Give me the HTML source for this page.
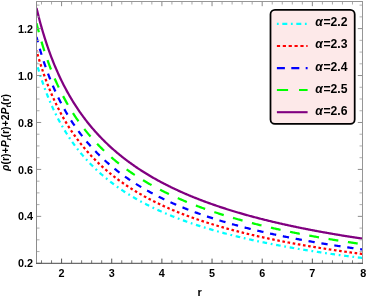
<!DOCTYPE html>
<html><head><meta charset="utf-8"><title>plot</title>
<style>html,body{margin:0;padding:0;background:#fff;}body{width:366px;height:297px;position:relative;overflow:hidden;font-family:"Liberation Sans",sans-serif;}</style>
</head><body>
<svg width="366" height="297" viewBox="0 0 366 297" style="position:absolute;left:0;top:0;will-change:transform;opacity:0.999">
<defs><clipPath id="c"><rect x="36.5" y="1.5" width="326.00" height="261.80"/></clipPath></defs>
<rect x="0" y="0" width="366" height="297" fill="#fff"/>
<g clip-path="url(#c)" fill="none" stroke-width="2.25">
<path d="M36.50,62.91 L37.32,65.77 L38.14,68.55 L38.95,71.25 L39.77,73.88 L40.59,76.44 L41.41,78.93 L42.23,81.35 L43.04,83.72 L43.86,86.03 L44.68,88.28 L45.50,90.47 L46.31,92.62 L47.13,94.71 L47.95,96.76 L48.77,98.76 L49.59,100.71 L50.40,102.62 L51.22,104.49 L52.04,106.33 L52.86,108.12 L53.68,109.87 L54.49,111.59 L55.31,113.27 L56.13,114.92 L56.95,116.54 L57.77,118.13 L58.58,119.69 L59.40,121.21 L60.22,122.71 L61.04,124.18 L61.86,125.62 L62.67,127.04 L63.49,128.43 L64.31,129.80 L65.13,131.15 L65.94,132.47 L66.76,133.77 L67.58,135.04 L68.40,136.30 L69.22,137.54 L70.03,138.75 L70.85,139.95 L71.67,141.12 L72.49,142.28 L73.31,143.42 L74.12,144.55 L74.94,145.65 L75.76,146.74 L76.58,147.81 L77.40,148.87 L78.21,149.91 L79.03,150.94 L79.85,151.95 L80.67,152.95 L81.49,153.93 L82.30,154.90 L83.12,155.86 L83.94,156.80 L84.76,157.73 L85.57,158.65 L86.39,159.56 L87.21,160.45 L88.03,161.33 L88.85,162.20 L89.66,163.06 L90.48,163.91 L91.30,164.75 L92.12,165.58 L92.94,166.39 L93.75,167.20 L94.57,168.00 L95.39,168.78 L96.21,169.56 L97.03,170.33 L97.84,171.09 L98.66,171.84 L99.48,172.58 L100.30,173.32 L101.11,174.04 L101.93,174.76 L102.75,175.46 L103.57,176.16 L104.39,176.86 L105.20,177.54 L106.02,178.22 L106.84,178.89 L107.66,179.55 L108.48,180.20 L109.29,180.85 L110.11,181.49 L110.93,182.13 L111.75,182.75 L112.57,183.38 L113.38,183.99 L114.20,184.60 L115.02,185.20 L115.84,185.80 L116.66,186.39 L117.47,186.97 L118.29,187.55 L119.11,188.12 L119.93,188.69 L120.74,189.25 L121.56,189.80 L122.38,190.35 L123.20,190.90 L124.02,191.44 L124.83,191.97 L125.65,192.50 L126.47,193.02 L127.29,193.54 L128.11,194.06 L128.92,194.57 L129.74,195.07 L130.56,195.57 L131.38,196.07 L132.20,196.56 L133.01,197.05 L133.83,197.53 L134.65,198.01 L135.47,198.48 L136.29,198.95 L137.10,199.42 L137.92,199.88 L138.74,200.33 L139.56,200.79 L140.37,201.24 L141.19,201.68 L142.01,202.12 L142.83,202.56 L143.65,203.00 L144.46,203.43 L145.28,203.85 L146.10,204.28 L146.92,204.70 L147.74,205.11 L148.55,205.53 L149.37,205.94 L150.19,206.34 L151.01,206.75 L151.83,207.15 L152.64,207.54 L153.46,207.94 L154.28,208.33 L155.10,208.71 L155.91,209.10 L156.73,209.48 L157.55,209.86 L158.37,210.23 L159.19,210.60 L160.00,210.97 L160.82,211.34 L161.64,211.70 L162.46,212.07 L163.28,212.42 L164.09,212.78 L164.91,213.13 L165.73,213.48 L166.55,213.83 L167.37,214.17 L168.18,214.52 L169.00,214.86 L169.82,215.19 L170.64,215.53 L171.46,215.86 L172.27,216.19 L173.09,216.52 L173.91,216.85 L174.73,217.17 L175.54,217.49 L176.36,217.81 L177.18,218.12 L178.00,218.44 L178.82,218.75 L179.63,219.06 L180.45,219.37 L181.27,219.67 L182.09,219.98 L182.91,220.28 L183.72,220.58 L184.54,220.87 L185.36,221.17 L186.18,221.46 L187.00,221.75 L187.81,222.04 L188.63,222.33 L189.45,222.61 L190.27,222.90 L191.09,223.18 L191.90,223.46 L192.72,223.73 L193.54,224.01 L194.36,224.28 L195.17,224.56 L195.99,224.83 L196.81,225.10 L197.63,225.36 L198.45,225.63 L199.26,225.89 L200.08,226.15 L200.90,226.41 L201.72,226.67 L202.54,226.93 L203.35,227.19 L204.17,227.44 L204.99,227.69 L205.81,227.94 L206.63,228.19 L207.44,228.44 L208.26,228.68 L209.08,228.93 L209.90,229.17 L210.71,229.41 L211.53,229.65 L212.35,229.89 L213.17,230.13 L213.99,230.36 L214.80,230.60 L215.62,230.83 L216.44,231.06 L217.26,231.29 L218.08,231.52 L218.89,231.75 L219.71,231.98 L220.53,232.20 L221.35,232.42 L222.17,232.65 L222.98,232.87 L223.80,233.09 L224.62,233.30 L225.44,233.52 L226.26,233.74 L227.07,233.95 L227.89,234.16 L228.71,234.38 L229.53,234.59 L230.34,234.80 L231.16,235.00 L231.98,235.21 L232.80,235.42 L233.62,235.62 L234.43,235.83 L235.25,236.03 L236.07,236.23 L236.89,236.43 L237.71,236.63 L238.52,236.83 L239.34,237.03 L240.16,237.22 L240.98,237.42 L241.80,237.61 L242.61,237.80 L243.43,238.00 L244.25,238.19 L245.07,238.38 L245.89,238.56 L246.70,238.75 L247.52,238.94 L248.34,239.12 L249.16,239.31 L249.97,239.49 L250.79,239.68 L251.61,239.86 L252.43,240.04 L253.25,240.22 L254.06,240.40 L254.88,240.58 L255.70,240.75 L256.52,240.93 L257.34,241.10 L258.15,241.28 L258.97,241.45 L259.79,241.62 L260.61,241.80 L261.43,241.97 L262.24,242.14 L263.06,242.31 L263.88,242.47 L264.70,242.64 L265.51,242.81 L266.33,242.97 L267.15,243.14 L267.97,243.30 L268.79,243.47 L269.60,243.63 L270.42,243.79 L271.24,243.95 L272.06,244.11 L272.88,244.27 L273.69,244.43 L274.51,244.59 L275.33,244.74 L276.15,244.90 L276.97,245.06 L277.78,245.21 L278.60,245.36 L279.42,245.52 L280.24,245.67 L281.06,245.82 L281.87,245.97 L282.69,246.12 L283.51,246.27 L284.33,246.42 L285.14,246.57 L285.96,246.72 L286.78,246.86 L287.60,247.01 L288.42,247.16 L289.23,247.30 L290.05,247.44 L290.87,247.59 L291.69,247.73 L292.51,247.87 L293.32,248.01 L294.14,248.16 L294.96,248.30 L295.78,248.43 L296.60,248.57 L297.41,248.71 L298.23,248.85 L299.05,248.99 L299.87,249.12 L300.69,249.26 L301.50,249.39 L302.32,249.53 L303.14,249.66 L303.96,249.79 L304.77,249.93 L305.59,250.06 L306.41,250.19 L307.23,250.32 L308.05,250.45 L308.86,250.58 L309.68,250.71 L310.50,250.84 L311.32,250.97 L312.14,251.10 L312.95,251.22 L313.77,251.35 L314.59,251.47 L315.41,251.60 L316.23,251.72 L317.04,251.85 L317.86,251.97 L318.68,252.10 L319.50,252.22 L320.31,252.34 L321.13,252.46 L321.95,252.58 L322.77,252.70 L323.59,252.82 L324.40,252.94 L325.22,253.06 L326.04,253.18 L326.86,253.30 L327.68,253.42 L328.49,253.53 L329.31,253.65 L330.13,253.77 L330.95,253.88 L331.77,254.00 L332.58,254.11 L333.40,254.23 L334.22,254.34 L335.04,254.45 L335.86,254.56 L336.67,254.68 L337.49,254.79 L338.31,254.90 L339.13,255.01 L339.94,255.12 L340.76,255.23 L341.58,255.34 L342.40,255.45 L343.22,255.56 L344.03,255.67 L344.85,255.77 L345.67,255.88 L346.49,255.99 L347.31,256.10 L348.12,256.20 L348.94,256.31 L349.76,256.41 L350.58,256.52 L351.40,256.62 L352.21,256.73 L353.03,256.83 L353.85,256.93 L354.67,257.04 L355.49,257.14 L356.30,257.24 L357.12,257.34 L357.94,257.44 L358.76,257.54 L359.57,257.64 L360.39,257.74 L361.21,257.84 L362.03,257.94 L362.85,258.04" stroke="#00ffff" stroke-dasharray="1.8 3.69 4.6 3.69" stroke-dashoffset="1.0"/>
<path d="M36.50,50.47 L37.32,53.41 L38.14,56.27 L38.95,59.05 L39.77,61.75 L40.59,64.39 L41.41,66.96 L42.23,69.46 L43.04,71.90 L43.86,74.28 L44.68,76.60 L45.50,78.86 L46.31,81.08 L47.13,83.24 L47.95,85.35 L48.77,87.41 L49.59,89.43 L50.40,91.41 L51.22,93.34 L52.04,95.23 L52.86,97.09 L53.68,98.90 L54.49,100.68 L55.31,102.42 L56.13,104.13 L56.95,105.80 L57.77,107.45 L58.58,109.06 L59.40,110.64 L60.22,112.19 L61.04,113.72 L61.86,115.21 L62.67,116.68 L63.49,118.13 L64.31,119.55 L65.13,120.94 L65.94,122.31 L66.76,123.66 L67.58,124.99 L68.40,126.29 L69.22,127.58 L70.03,128.84 L70.85,130.08 L71.67,131.31 L72.49,132.51 L73.31,133.70 L74.12,134.86 L74.94,136.01 L75.76,137.15 L76.58,138.26 L77.40,139.36 L78.21,140.45 L79.03,141.52 L79.85,142.57 L80.67,143.61 L81.49,144.63 L82.30,145.64 L83.12,146.64 L83.94,147.62 L84.76,148.59 L85.57,149.55 L86.39,150.50 L87.21,151.43 L88.03,152.35 L88.85,153.26 L89.66,154.15 L90.48,155.04 L91.30,155.91 L92.12,156.78 L92.94,157.63 L93.75,158.47 L94.57,159.30 L95.39,160.13 L96.21,160.94 L97.03,161.74 L97.84,162.53 L98.66,163.32 L99.48,164.09 L100.30,164.86 L101.11,165.62 L101.93,166.37 L102.75,167.11 L103.57,167.84 L104.39,168.56 L105.20,169.28 L106.02,169.99 L106.84,170.69 L107.66,171.38 L108.48,172.07 L109.29,172.74 L110.11,173.41 L110.93,174.08 L111.75,174.74 L112.57,175.39 L113.38,176.03 L114.20,176.67 L115.02,177.30 L115.84,177.92 L116.66,178.54 L117.47,179.15 L118.29,179.76 L119.11,180.36 L119.93,180.95 L120.74,181.54 L121.56,182.12 L122.38,182.70 L123.20,183.27 L124.02,183.83 L124.83,184.39 L125.65,184.95 L126.47,185.50 L127.29,186.04 L128.11,186.58 L128.92,187.12 L129.74,187.65 L130.56,188.17 L131.38,188.69 L132.20,189.21 L133.01,189.72 L133.83,190.22 L134.65,190.73 L135.47,191.22 L136.29,191.72 L137.10,192.21 L137.92,192.69 L138.74,193.17 L139.56,193.65 L140.37,194.12 L141.19,194.59 L142.01,195.05 L142.83,195.51 L143.65,195.97 L144.46,196.42 L145.28,196.87 L146.10,197.31 L146.92,197.75 L147.74,198.19 L148.55,198.63 L149.37,199.06 L150.19,199.48 L151.01,199.91 L151.83,200.33 L152.64,200.74 L153.46,201.16 L154.28,201.57 L155.10,201.98 L155.91,202.38 L156.73,202.78 L157.55,203.18 L158.37,203.57 L159.19,203.96 L160.00,204.35 L160.82,204.74 L161.64,205.12 L162.46,205.50 L163.28,205.88 L164.09,206.25 L164.91,206.62 L165.73,206.99 L166.55,207.36 L167.37,207.72 L168.18,208.08 L169.00,208.44 L169.82,208.80 L170.64,209.15 L171.46,209.50 L172.27,209.85 L173.09,210.19 L173.91,210.53 L174.73,210.87 L175.54,211.21 L176.36,211.55 L177.18,211.88 L178.00,212.21 L178.82,212.54 L179.63,212.86 L180.45,213.19 L181.27,213.51 L182.09,213.83 L182.91,214.15 L183.72,214.46 L184.54,214.77 L185.36,215.09 L186.18,215.39 L187.00,215.70 L187.81,216.01 L188.63,216.31 L189.45,216.61 L190.27,216.91 L191.09,217.20 L191.90,217.50 L192.72,217.79 L193.54,218.08 L194.36,218.37 L195.17,218.66 L195.99,218.94 L196.81,219.23 L197.63,219.51 L198.45,219.79 L199.26,220.07 L200.08,220.34 L200.90,220.62 L201.72,220.89 L202.54,221.16 L203.35,221.43 L204.17,221.70 L204.99,221.96 L205.81,222.23 L206.63,222.49 L207.44,222.75 L208.26,223.01 L209.08,223.27 L209.90,223.52 L210.71,223.78 L211.53,224.03 L212.35,224.28 L213.17,224.53 L213.99,224.78 L214.80,225.03 L215.62,225.27 L216.44,225.52 L217.26,225.76 L218.08,226.00 L218.89,226.24 L219.71,226.48 L220.53,226.72 L221.35,226.95 L222.17,227.19 L222.98,227.42 L223.80,227.65 L224.62,227.88 L225.44,228.11 L226.26,228.34 L227.07,228.57 L227.89,228.79 L228.71,229.02 L229.53,229.24 L230.34,229.46 L231.16,229.68 L231.98,229.90 L232.80,230.12 L233.62,230.33 L234.43,230.55 L235.25,230.76 L236.07,230.97 L236.89,231.19 L237.71,231.40 L238.52,231.61 L239.34,231.81 L240.16,232.02 L240.98,232.23 L241.80,232.43 L242.61,232.63 L243.43,232.84 L244.25,233.04 L245.07,233.24 L245.89,233.44 L246.70,233.64 L247.52,233.83 L248.34,234.03 L249.16,234.23 L249.97,234.42 L250.79,234.61 L251.61,234.80 L252.43,235.00 L253.25,235.19 L254.06,235.37 L254.88,235.56 L255.70,235.75 L256.52,235.94 L257.34,236.12 L258.15,236.31 L258.97,236.49 L259.79,236.67 L260.61,236.85 L261.43,237.03 L262.24,237.21 L263.06,237.39 L263.88,237.57 L264.70,237.75 L265.51,237.92 L266.33,238.10 L267.15,238.27 L267.97,238.45 L268.79,238.62 L269.60,238.79 L270.42,238.96 L271.24,239.13 L272.06,239.30 L272.88,239.47 L273.69,239.64 L274.51,239.80 L275.33,239.97 L276.15,240.13 L276.97,240.30 L277.78,240.46 L278.60,240.62 L279.42,240.79 L280.24,240.95 L281.06,241.11 L281.87,241.27 L282.69,241.43 L283.51,241.58 L284.33,241.74 L285.14,241.90 L285.96,242.05 L286.78,242.21 L287.60,242.36 L288.42,242.52 L289.23,242.67 L290.05,242.82 L290.87,242.97 L291.69,243.13 L292.51,243.28 L293.32,243.43 L294.14,243.57 L294.96,243.72 L295.78,243.87 L296.60,244.02 L297.41,244.16 L298.23,244.31 L299.05,244.45 L299.87,244.60 L300.69,244.74 L301.50,244.88 L302.32,245.03 L303.14,245.17 L303.96,245.31 L304.77,245.45 L305.59,245.59 L306.41,245.73 L307.23,245.87 L308.05,246.00 L308.86,246.14 L309.68,246.28 L310.50,246.41 L311.32,246.55 L312.14,246.68 L312.95,246.82 L313.77,246.95 L314.59,247.08 L315.41,247.22 L316.23,247.35 L317.04,247.48 L317.86,247.61 L318.68,247.74 L319.50,247.87 L320.31,248.00 L321.13,248.13 L321.95,248.26 L322.77,248.39 L323.59,248.51 L324.40,248.64 L325.22,248.76 L326.04,248.89 L326.86,249.01 L327.68,249.14 L328.49,249.26 L329.31,249.39 L330.13,249.51 L330.95,249.63 L331.77,249.75 L332.58,249.87 L333.40,250.00 L334.22,250.12 L335.04,250.24 L335.86,250.35 L336.67,250.47 L337.49,250.59 L338.31,250.71 L339.13,250.83 L339.94,250.94 L340.76,251.06 L341.58,251.18 L342.40,251.29 L343.22,251.41 L344.03,251.52 L344.85,251.64 L345.67,251.75 L346.49,251.86 L347.31,251.97 L348.12,252.09 L348.94,252.20 L349.76,252.31 L350.58,252.42 L351.40,252.53 L352.21,252.64 L353.03,252.75 L353.85,252.86 L354.67,252.97 L355.49,253.08 L356.30,253.19 L357.12,253.29 L357.94,253.40 L358.76,253.51 L359.57,253.61 L360.39,253.72 L361.21,253.82 L362.03,253.93 L362.85,254.03" stroke="#ff0000" stroke-dasharray="2.6 2.624" stroke-dashoffset="1.5"/>
<path d="M36.50,36.92 L37.32,40.01 L38.14,43.01 L38.95,45.93 L39.77,48.77 L40.59,51.53 L41.41,54.22 L42.23,56.84 L43.04,59.39 L43.86,61.88 L44.68,64.31 L45.50,66.68 L46.31,68.99 L47.13,71.25 L47.95,73.45 L48.77,75.61 L49.59,77.72 L50.40,79.78 L51.22,81.79 L52.04,83.77 L52.86,85.70 L53.68,87.59 L54.49,89.44 L55.31,91.26 L56.13,93.04 L56.95,94.78 L57.77,96.49 L58.58,98.17 L59.40,99.81 L60.22,101.43 L61.04,103.01 L61.86,104.57 L62.67,106.10 L63.49,107.60 L64.31,109.08 L65.13,110.53 L65.94,111.95 L66.76,113.36 L67.58,114.73 L68.40,116.09 L69.22,117.42 L70.03,118.74 L70.85,120.03 L71.67,121.30 L72.49,122.55 L73.31,123.78 L74.12,124.99 L74.94,126.19 L75.76,127.37 L76.58,128.53 L77.40,129.67 L78.21,130.79 L79.03,131.90 L79.85,133.00 L80.67,134.08 L81.49,135.14 L82.30,136.19 L83.12,137.23 L83.94,138.25 L84.76,139.26 L85.57,140.25 L86.39,141.23 L87.21,142.20 L88.03,143.16 L88.85,144.10 L89.66,145.03 L90.48,145.95 L91.30,146.86 L92.12,147.76 L92.94,148.64 L93.75,149.52 L94.57,150.38 L95.39,151.24 L96.21,152.08 L97.03,152.92 L97.84,153.74 L98.66,154.55 L99.48,155.36 L100.30,156.16 L101.11,156.94 L101.93,157.72 L102.75,158.49 L103.57,159.25 L104.39,160.01 L105.20,160.75 L106.02,161.49 L106.84,162.22 L107.66,162.94 L108.48,163.65 L109.29,164.35 L110.11,165.05 L110.93,165.74 L111.75,166.43 L112.57,167.10 L113.38,167.77 L114.20,168.44 L115.02,169.09 L115.84,169.74 L116.66,170.39 L117.47,171.02 L118.29,171.65 L119.11,172.28 L119.93,172.89 L120.74,173.51 L121.56,174.11 L122.38,174.71 L123.20,175.31 L124.02,175.90 L124.83,176.48 L125.65,177.06 L126.47,177.63 L127.29,178.20 L128.11,178.76 L128.92,179.32 L129.74,179.87 L130.56,180.42 L131.38,180.96 L132.20,181.50 L133.01,182.03 L133.83,182.56 L134.65,183.08 L135.47,183.60 L136.29,184.11 L137.10,184.62 L137.92,185.13 L138.74,185.63 L139.56,186.13 L140.37,186.62 L141.19,187.11 L142.01,187.59 L142.83,188.07 L143.65,188.55 L144.46,189.02 L145.28,189.49 L146.10,189.95 L146.92,190.41 L147.74,190.87 L148.55,191.32 L149.37,191.77 L150.19,192.22 L151.01,192.66 L151.83,193.10 L152.64,193.54 L153.46,193.97 L154.28,194.40 L155.10,194.82 L155.91,195.24 L156.73,195.66 L157.55,196.08 L158.37,196.49 L159.19,196.90 L160.00,197.31 L160.82,197.71 L161.64,198.11 L162.46,198.51 L163.28,198.90 L164.09,199.29 L164.91,199.68 L165.73,200.06 L166.55,200.45 L167.37,200.83 L168.18,201.20 L169.00,201.58 L169.82,201.95 L170.64,202.32 L171.46,202.68 L172.27,203.05 L173.09,203.41 L173.91,203.77 L174.73,204.12 L175.54,204.48 L176.36,204.83 L177.18,205.18 L178.00,205.52 L178.82,205.87 L179.63,206.21 L180.45,206.55 L181.27,206.88 L182.09,207.22 L182.91,207.55 L183.72,207.88 L184.54,208.21 L185.36,208.53 L186.18,208.86 L187.00,209.18 L187.81,209.50 L188.63,209.81 L189.45,210.13 L190.27,210.44 L191.09,210.75 L191.90,211.06 L192.72,211.37 L193.54,211.67 L194.36,211.97 L195.17,212.28 L195.99,212.57 L196.81,212.87 L197.63,213.17 L198.45,213.46 L199.26,213.75 L200.08,214.04 L200.90,214.33 L201.72,214.61 L202.54,214.90 L203.35,215.18 L204.17,215.46 L204.99,215.74 L205.81,216.02 L206.63,216.29 L207.44,216.57 L208.26,216.84 L209.08,217.11 L209.90,217.38 L210.71,217.65 L211.53,217.91 L212.35,218.18 L213.17,218.44 L213.99,218.70 L214.80,218.96 L215.62,219.22 L216.44,219.47 L217.26,219.73 L218.08,219.98 L218.89,220.23 L219.71,220.48 L220.53,220.73 L221.35,220.98 L222.17,221.22 L222.98,221.47 L223.80,221.71 L224.62,221.95 L225.44,222.19 L226.26,222.43 L227.07,222.67 L227.89,222.91 L228.71,223.14 L229.53,223.38 L230.34,223.61 L231.16,223.84 L231.98,224.07 L232.80,224.30 L233.62,224.53 L234.43,224.75 L235.25,224.98 L236.07,225.20 L236.89,225.42 L237.71,225.64 L238.52,225.86 L239.34,226.08 L240.16,226.30 L240.98,226.52 L241.80,226.73 L242.61,226.95 L243.43,227.16 L244.25,227.37 L245.07,227.58 L245.89,227.79 L246.70,228.00 L247.52,228.21 L248.34,228.41 L249.16,228.62 L249.97,228.82 L250.79,229.03 L251.61,229.23 L252.43,229.43 L253.25,229.63 L254.06,229.83 L254.88,230.03 L255.70,230.22 L256.52,230.42 L257.34,230.61 L258.15,230.81 L258.97,231.00 L259.79,231.19 L260.61,231.38 L261.43,231.57 L262.24,231.76 L263.06,231.95 L263.88,232.14 L264.70,232.32 L265.51,232.51 L266.33,232.69 L267.15,232.88 L267.97,233.06 L268.79,233.24 L269.60,233.42 L270.42,233.60 L271.24,233.78 L272.06,233.96 L272.88,234.14 L273.69,234.31 L274.51,234.49 L275.33,234.66 L276.15,234.84 L276.97,235.01 L277.78,235.18 L278.60,235.35 L279.42,235.52 L280.24,235.69 L281.06,235.86 L281.87,236.03 L282.69,236.20 L283.51,236.36 L284.33,236.53 L285.14,236.69 L285.96,236.86 L286.78,237.02 L287.60,237.18 L288.42,237.35 L289.23,237.51 L290.05,237.67 L290.87,237.83 L291.69,237.99 L292.51,238.15 L293.32,238.30 L294.14,238.46 L294.96,238.62 L295.78,238.77 L296.60,238.93 L297.41,239.08 L298.23,239.23 L299.05,239.39 L299.87,239.54 L300.69,239.69 L301.50,239.84 L302.32,239.99 L303.14,240.14 L303.96,240.29 L304.77,240.44 L305.59,240.58 L306.41,240.73 L307.23,240.88 L308.05,241.02 L308.86,241.17 L309.68,241.31 L310.50,241.45 L311.32,241.60 L312.14,241.74 L312.95,241.88 L313.77,242.02 L314.59,242.16 L315.41,242.30 L316.23,242.44 L317.04,242.58 L317.86,242.72 L318.68,242.86 L319.50,242.99 L320.31,243.13 L321.13,243.26 L321.95,243.40 L322.77,243.53 L323.59,243.67 L324.40,243.80 L325.22,243.93 L326.04,244.07 L326.86,244.20 L327.68,244.33 L328.49,244.46 L329.31,244.59 L330.13,244.72 L330.95,244.85 L331.77,244.98 L332.58,245.11 L333.40,245.23 L334.22,245.36 L335.04,245.49 L335.86,245.61 L336.67,245.74 L337.49,245.86 L338.31,245.99 L339.13,246.11 L339.94,246.23 L340.76,246.36 L341.58,246.48 L342.40,246.60 L343.22,246.72 L344.03,246.84 L344.85,246.96 L345.67,247.08 L346.49,247.20 L347.31,247.32 L348.12,247.44 L348.94,247.56 L349.76,247.68 L350.58,247.79 L351.40,247.91 L352.21,248.03 L353.03,248.14 L353.85,248.26 L354.67,248.37 L355.49,248.49 L356.30,248.60 L357.12,248.72 L357.94,248.83 L358.76,248.94 L359.57,249.05 L360.39,249.17 L361.21,249.28 L362.03,249.39 L362.85,249.50" stroke="#0000ff" stroke-dasharray="6.3 6.77" stroke-dashoffset="0.8"/>
<path d="M36.50,23.17 L37.32,26.42 L38.14,29.57 L38.95,32.63 L39.77,35.61 L40.59,38.51 L41.41,41.33 L42.23,44.07 L43.04,46.74 L43.86,49.34 L44.68,51.88 L45.50,54.35 L46.31,56.76 L47.13,59.12 L47.95,61.42 L48.77,63.66 L49.59,65.86 L50.40,68.00 L51.22,70.10 L52.04,72.15 L52.86,74.16 L53.68,76.12 L54.49,78.05 L55.31,79.93 L56.13,81.78 L56.95,83.59 L57.77,85.36 L58.58,87.10 L59.40,88.81 L60.22,90.48 L61.04,92.12 L61.86,93.74 L62.67,95.32 L63.49,96.87 L64.31,98.40 L65.13,99.90 L65.94,101.38 L66.76,102.83 L67.58,104.25 L68.40,105.66 L69.22,107.04 L70.03,108.39 L70.85,109.73 L71.67,111.04 L72.49,112.33 L73.31,113.61 L74.12,114.86 L74.94,116.10 L75.76,117.31 L76.58,118.51 L77.40,119.69 L78.21,120.85 L79.03,122.00 L79.85,123.13 L80.67,124.25 L81.49,125.35 L82.30,126.43 L83.12,127.50 L83.94,128.55 L84.76,129.59 L85.57,130.62 L86.39,131.63 L87.21,132.63 L88.03,133.62 L88.85,134.60 L89.66,135.56 L90.48,136.51 L91.30,137.45 L92.12,138.37 L92.94,139.29 L93.75,140.19 L94.57,141.09 L95.39,141.97 L96.21,142.84 L97.03,143.70 L97.84,144.55 L98.66,145.40 L99.48,146.23 L100.30,147.05 L101.11,147.86 L101.93,148.67 L102.75,149.46 L103.57,150.25 L104.39,151.03 L105.20,151.80 L106.02,152.56 L106.84,153.31 L107.66,154.06 L108.48,154.79 L109.29,155.52 L110.11,156.25 L110.93,156.96 L111.75,157.67 L112.57,158.37 L113.38,159.06 L114.20,159.75 L115.02,160.42 L115.84,161.10 L116.66,161.76 L117.47,162.42 L118.29,163.07 L119.11,163.72 L119.93,164.36 L120.74,164.99 L121.56,165.62 L122.38,166.24 L123.20,166.86 L124.02,167.47 L124.83,168.07 L125.65,168.67 L126.47,169.26 L127.29,169.85 L128.11,170.43 L128.92,171.01 L129.74,171.58 L130.56,172.15 L131.38,172.71 L132.20,173.27 L133.01,173.82 L133.83,174.37 L134.65,174.91 L135.47,175.45 L136.29,175.98 L137.10,176.51 L137.92,177.03 L138.74,177.55 L139.56,178.07 L140.37,178.58 L141.19,179.08 L142.01,179.59 L142.83,180.08 L143.65,180.58 L144.46,181.07 L145.28,181.55 L146.10,182.04 L146.92,182.51 L147.74,182.99 L148.55,183.46 L149.37,183.93 L150.19,184.39 L151.01,184.85 L151.83,185.30 L152.64,185.76 L153.46,186.21 L154.28,186.65 L155.10,187.09 L155.91,187.53 L156.73,187.97 L157.55,188.40 L158.37,188.83 L159.19,189.25 L160.00,189.67 L160.82,190.09 L161.64,190.51 L162.46,190.92 L163.28,191.33 L164.09,191.74 L164.91,192.14 L165.73,192.54 L166.55,192.94 L167.37,193.34 L168.18,193.73 L169.00,194.12 L169.82,194.50 L170.64,194.89 L171.46,195.27 L172.27,195.65 L173.09,196.02 L173.91,196.40 L174.73,196.77 L175.54,197.13 L176.36,197.50 L177.18,197.86 L178.00,198.22 L178.82,198.58 L179.63,198.94 L180.45,199.29 L181.27,199.64 L182.09,199.99 L182.91,200.33 L183.72,200.68 L184.54,201.02 L185.36,201.36 L186.18,201.70 L187.00,202.03 L187.81,202.36 L188.63,202.69 L189.45,203.02 L190.27,203.35 L191.09,203.67 L191.90,203.99 L192.72,204.31 L193.54,204.63 L194.36,204.95 L195.17,205.26 L195.99,205.57 L196.81,205.88 L197.63,206.19 L198.45,206.49 L199.26,206.80 L200.08,207.10 L200.90,207.40 L201.72,207.70 L202.54,208.00 L203.35,208.29 L204.17,208.58 L204.99,208.87 L205.81,209.16 L206.63,209.45 L207.44,209.74 L208.26,210.02 L209.08,210.30 L209.90,210.58 L210.71,210.86 L211.53,211.14 L212.35,211.42 L213.17,211.69 L213.99,211.96 L214.80,212.23 L215.62,212.50 L216.44,212.77 L217.26,213.04 L218.08,213.30 L218.89,213.57 L219.71,213.83 L220.53,214.09 L221.35,214.35 L222.17,214.60 L222.98,214.86 L223.80,215.11 L224.62,215.37 L225.44,215.62 L226.26,215.87 L227.07,216.12 L227.89,216.36 L228.71,216.61 L229.53,216.85 L230.34,217.10 L231.16,217.34 L231.98,217.58 L232.80,217.82 L233.62,218.06 L234.43,218.29 L235.25,218.53 L236.07,218.76 L236.89,218.99 L237.71,219.23 L238.52,219.46 L239.34,219.69 L240.16,219.91 L240.98,220.14 L241.80,220.36 L242.61,220.59 L243.43,220.81 L244.25,221.03 L245.07,221.25 L245.89,221.47 L246.70,221.69 L247.52,221.91 L248.34,222.13 L249.16,222.34 L249.97,222.55 L250.79,222.77 L251.61,222.98 L252.43,223.19 L253.25,223.40 L254.06,223.61 L254.88,223.81 L255.70,224.02 L256.52,224.23 L257.34,224.43 L258.15,224.63 L258.97,224.83 L259.79,225.04 L260.61,225.24 L261.43,225.44 L262.24,225.63 L263.06,225.83 L263.88,226.03 L264.70,226.22 L265.51,226.42 L266.33,226.61 L267.15,226.80 L267.97,226.99 L268.79,227.18 L269.60,227.37 L270.42,227.56 L271.24,227.75 L272.06,227.94 L272.88,228.12 L273.69,228.31 L274.51,228.49 L275.33,228.68 L276.15,228.86 L276.97,229.04 L277.78,229.22 L278.60,229.40 L279.42,229.58 L280.24,229.76 L281.06,229.93 L281.87,230.11 L282.69,230.29 L283.51,230.46 L284.33,230.64 L285.14,230.81 L285.96,230.98 L286.78,231.15 L287.60,231.32 L288.42,231.49 L289.23,231.66 L290.05,231.83 L290.87,232.00 L291.69,232.17 L292.51,232.33 L293.32,232.50 L294.14,232.66 L294.96,232.83 L295.78,232.99 L296.60,233.15 L297.41,233.31 L298.23,233.47 L299.05,233.64 L299.87,233.79 L300.69,233.95 L301.50,234.11 L302.32,234.27 L303.14,234.43 L303.96,234.58 L304.77,234.74 L305.59,234.89 L306.41,235.05 L307.23,235.20 L308.05,235.35 L308.86,235.51 L309.68,235.66 L310.50,235.81 L311.32,235.96 L312.14,236.11 L312.95,236.26 L313.77,236.40 L314.59,236.55 L315.41,236.70 L316.23,236.85 L317.04,236.99 L317.86,237.14 L318.68,237.28 L319.50,237.42 L320.31,237.57 L321.13,237.71 L321.95,237.85 L322.77,237.99 L323.59,238.13 L324.40,238.28 L325.22,238.41 L326.04,238.55 L326.86,238.69 L327.68,238.83 L328.49,238.97 L329.31,239.10 L330.13,239.24 L330.95,239.38 L331.77,239.51 L332.58,239.65 L333.40,239.78 L334.22,239.91 L335.04,240.05 L335.86,240.18 L336.67,240.31 L337.49,240.44 L338.31,240.57 L339.13,240.70 L339.94,240.83 L340.76,240.96 L341.58,241.09 L342.40,241.22 L343.22,241.35 L344.03,241.48 L344.85,241.60 L345.67,241.73 L346.49,241.86 L347.31,241.98 L348.12,242.11 L348.94,242.23 L349.76,242.35 L350.58,242.48 L351.40,242.60 L352.21,242.72 L353.03,242.84 L353.85,242.97 L354.67,243.09 L355.49,243.21 L356.30,243.33 L357.12,243.45 L357.94,243.57 L358.76,243.69 L359.57,243.80 L360.39,243.92 L361.21,244.04 L362.03,244.16 L362.85,244.27" stroke="#00ff00" stroke-dasharray="9.9 9.68" stroke-dashoffset="0.5"/>
<path d="M36.50,7.99 L37.32,11.37 L38.14,14.64 L38.95,17.83 L39.77,20.92 L40.59,23.93 L41.41,26.86 L42.23,29.71 L43.04,32.48 L43.86,35.19 L44.68,37.83 L45.50,40.40 L46.31,42.91 L47.13,45.35 L47.95,47.75 L48.77,50.08 L49.59,52.36 L50.40,54.59 L51.22,56.78 L52.04,58.91 L52.86,61.00 L53.68,63.05 L54.49,65.05 L55.31,67.01 L56.13,68.93 L56.95,70.81 L57.77,72.66 L58.58,74.47 L59.40,76.25 L60.22,77.99 L61.04,79.70 L61.86,81.38 L62.67,83.03 L63.49,84.65 L64.31,86.24 L65.13,87.81 L65.94,89.34 L66.76,90.85 L67.58,92.34 L68.40,93.80 L69.22,95.24 L70.03,96.65 L70.85,98.04 L71.67,99.41 L72.49,100.76 L73.31,102.09 L74.12,103.39 L74.94,104.68 L75.76,105.95 L76.58,107.20 L77.40,108.43 L78.21,109.64 L79.03,110.84 L79.85,112.02 L80.67,113.18 L81.49,114.33 L82.30,115.46 L83.12,116.57 L83.94,117.67 L84.76,118.76 L85.57,119.83 L86.39,120.89 L87.21,121.93 L88.03,122.96 L88.85,123.98 L89.66,124.98 L90.48,125.97 L91.30,126.95 L92.12,127.92 L92.94,128.88 L93.75,129.82 L94.57,130.75 L95.39,131.67 L96.21,132.58 L97.03,133.48 L97.84,134.37 L98.66,135.25 L99.48,136.12 L100.30,136.98 L101.11,137.83 L101.93,138.67 L102.75,139.50 L103.57,140.32 L104.39,141.13 L105.20,141.94 L106.02,142.73 L106.84,143.52 L107.66,144.30 L108.48,145.07 L109.29,145.83 L110.11,146.58 L110.93,147.33 L111.75,148.07 L112.57,148.80 L113.38,149.52 L114.20,150.24 L115.02,150.95 L115.84,151.65 L116.66,152.35 L117.47,153.04 L118.29,153.72 L119.11,154.39 L119.93,155.06 L120.74,155.72 L121.56,156.38 L122.38,157.03 L123.20,157.67 L124.02,158.31 L124.83,158.94 L125.65,159.57 L126.47,160.19 L127.29,160.80 L128.11,161.41 L128.92,162.02 L129.74,162.61 L130.56,163.21 L131.38,163.79 L132.20,164.38 L133.01,164.95 L133.83,165.52 L134.65,166.09 L135.47,166.65 L136.29,167.21 L137.10,167.76 L137.92,168.31 L138.74,168.86 L139.56,169.39 L140.37,169.93 L141.19,170.46 L142.01,170.98 L142.83,171.50 L143.65,172.02 L144.46,172.53 L145.28,173.04 L146.10,173.55 L146.92,174.05 L147.74,174.54 L148.55,175.03 L149.37,175.52 L150.19,176.01 L151.01,176.49 L151.83,176.96 L152.64,177.44 L153.46,177.91 L154.28,178.37 L155.10,178.83 L155.91,179.29 L156.73,179.75 L157.55,180.20 L158.37,180.65 L159.19,181.09 L160.00,181.54 L160.82,181.97 L161.64,182.41 L162.46,182.84 L163.28,183.27 L164.09,183.69 L164.91,184.12 L165.73,184.54 L166.55,184.95 L167.37,185.37 L168.18,185.78 L169.00,186.18 L169.82,186.59 L170.64,186.99 L171.46,187.39 L172.27,187.79 L173.09,188.18 L173.91,188.57 L174.73,188.96 L175.54,189.34 L176.36,189.72 L177.18,190.10 L178.00,190.48 L178.82,190.86 L179.63,191.23 L180.45,191.60 L181.27,191.96 L182.09,192.33 L182.91,192.69 L183.72,193.05 L184.54,193.41 L185.36,193.76 L186.18,194.12 L187.00,194.47 L187.81,194.81 L188.63,195.16 L189.45,195.50 L190.27,195.85 L191.09,196.18 L191.90,196.52 L192.72,196.86 L193.54,197.19 L194.36,197.52 L195.17,197.85 L195.99,198.17 L196.81,198.50 L197.63,198.82 L198.45,199.14 L199.26,199.46 L200.08,199.78 L200.90,200.09 L201.72,200.40 L202.54,200.71 L203.35,201.02 L204.17,201.33 L204.99,201.63 L205.81,201.94 L206.63,202.24 L207.44,202.54 L208.26,202.83 L209.08,203.13 L209.90,203.42 L210.71,203.72 L211.53,204.01 L212.35,204.29 L213.17,204.58 L213.99,204.87 L214.80,205.15 L215.62,205.43 L216.44,205.71 L217.26,205.99 L218.08,206.27 L218.89,206.55 L219.71,206.82 L220.53,207.09 L221.35,207.36 L222.17,207.63 L222.98,207.90 L223.80,208.17 L224.62,208.43 L225.44,208.69 L226.26,208.96 L227.07,209.22 L227.89,209.47 L228.71,209.73 L229.53,209.99 L230.34,210.24 L231.16,210.50 L231.98,210.75 L232.80,211.00 L233.62,211.25 L234.43,211.50 L235.25,211.74 L236.07,211.99 L236.89,212.23 L237.71,212.47 L238.52,212.71 L239.34,212.95 L240.16,213.19 L240.98,213.43 L241.80,213.67 L242.61,213.90 L243.43,214.13 L244.25,214.37 L245.07,214.60 L245.89,214.83 L246.70,215.06 L247.52,215.28 L248.34,215.51 L249.16,215.73 L249.97,215.96 L250.79,216.18 L251.61,216.40 L252.43,216.62 L253.25,216.84 L254.06,217.06 L254.88,217.28 L255.70,217.49 L256.52,217.71 L257.34,217.92 L258.15,218.14 L258.97,218.35 L259.79,218.56 L260.61,218.77 L261.43,218.98 L262.24,219.18 L263.06,219.39 L263.88,219.60 L264.70,219.80 L265.51,220.00 L266.33,220.21 L267.15,220.41 L267.97,220.61 L268.79,220.81 L269.60,221.01 L270.42,221.21 L271.24,221.40 L272.06,221.60 L272.88,221.79 L273.69,221.99 L274.51,222.18 L275.33,222.37 L276.15,222.56 L276.97,222.75 L277.78,222.94 L278.60,223.13 L279.42,223.32 L280.24,223.50 L281.06,223.69 L281.87,223.88 L282.69,224.06 L283.51,224.24 L284.33,224.42 L285.14,224.61 L285.96,224.79 L286.78,224.97 L287.60,225.15 L288.42,225.32 L289.23,225.50 L290.05,225.68 L290.87,225.85 L291.69,226.03 L292.51,226.20 L293.32,226.38 L294.14,226.55 L294.96,226.72 L295.78,226.89 L296.60,227.06 L297.41,227.23 L298.23,227.40 L299.05,227.57 L299.87,227.74 L300.69,227.90 L301.50,228.07 L302.32,228.23 L303.14,228.40 L303.96,228.56 L304.77,228.72 L305.59,228.89 L306.41,229.05 L307.23,229.21 L308.05,229.37 L308.86,229.53 L309.68,229.69 L310.50,229.84 L311.32,230.00 L312.14,230.16 L312.95,230.31 L313.77,230.47 L314.59,230.62 L315.41,230.78 L316.23,230.93 L317.04,231.08 L317.86,231.24 L318.68,231.39 L319.50,231.54 L320.31,231.69 L321.13,231.84 L321.95,231.99 L322.77,232.14 L323.59,232.28 L324.40,232.43 L325.22,232.58 L326.04,232.72 L326.86,232.87 L327.68,233.01 L328.49,233.16 L329.31,233.30 L330.13,233.44 L330.95,233.59 L331.77,233.73 L332.58,233.87 L333.40,234.01 L334.22,234.15 L335.04,234.29 L335.86,234.43 L336.67,234.57 L337.49,234.70 L338.31,234.84 L339.13,234.98 L339.94,235.11 L340.76,235.25 L341.58,235.38 L342.40,235.52 L343.22,235.65 L344.03,235.79 L344.85,235.92 L345.67,236.05 L346.49,236.18 L347.31,236.31 L348.12,236.45 L348.94,236.58 L349.76,236.71 L350.58,236.83 L351.40,236.96 L352.21,237.09 L353.03,237.22 L353.85,237.35 L354.67,237.47 L355.49,237.60 L356.30,237.73 L357.12,237.85 L357.94,237.98 L358.76,238.10 L359.57,238.22 L360.39,238.35 L361.21,238.47 L362.03,238.59 L362.85,238.72" stroke="#800080"/>
</g>
<g fill="none" stroke-width="1">
<path d="M61.58,263.3v-4.7M111.73,263.3v-4.7M161.88,263.3v-4.7M212.04,263.3v-4.7M262.19,263.3v-4.7M312.35,263.3v-4.7M362.50,263.3v-4.7" stroke="#555"/>
<path d="M41.52,263.3v-3.0M51.55,263.3v-3.0M71.61,263.3v-3.0M81.64,263.3v-3.0M91.67,263.3v-3.0M101.70,263.3v-3.0M121.76,263.3v-3.0M131.79,263.3v-3.0M141.82,263.3v-3.0M151.85,263.3v-3.0M171.92,263.3v-3.0M181.95,263.3v-3.0M191.98,263.3v-3.0M202.01,263.3v-3.0M222.07,263.3v-3.0M232.10,263.3v-3.0M242.13,263.3v-3.0M252.16,263.3v-3.0M272.22,263.3v-3.0M282.25,263.3v-3.0M292.29,263.3v-3.0M302.32,263.3v-3.0M322.38,263.3v-3.0M332.41,263.3v-3.0M342.44,263.3v-3.0M352.47,263.3v-3.0" stroke="#777"/>
<path d="M61.58,1.5v4.7M111.73,1.5v4.7M161.88,1.5v4.7M212.04,1.5v4.7M262.19,1.5v4.7M312.35,1.5v4.7M362.50,1.5v4.7" stroke="#888"/>
<path d="M41.52,1.5v3.0M51.55,1.5v3.0M71.61,1.5v3.0M81.64,1.5v3.0M91.67,1.5v3.0M101.70,1.5v3.0M121.76,1.5v3.0M131.79,1.5v3.0M141.82,1.5v3.0M151.85,1.5v3.0M171.92,1.5v3.0M181.95,1.5v3.0M191.98,1.5v3.0M202.01,1.5v3.0M222.07,1.5v3.0M232.10,1.5v3.0M242.13,1.5v3.0M252.16,1.5v3.0M272.22,1.5v3.0M282.25,1.5v3.0M292.29,1.5v3.0M302.32,1.5v3.0M322.38,1.5v3.0M332.41,1.5v3.0M342.44,1.5v3.0M352.47,1.5v3.0" stroke="#a8a8a8"/>
<path d="M36.5,263.30h4.7M36.5,216.36h4.7M36.5,169.42h4.7M36.5,122.48h4.7M36.5,75.54h4.7M36.5,28.60h4.7" stroke="#909090"/>
<path d="M36.5,251.57h3.0M36.5,239.83h3.0M36.5,228.09h3.0M36.5,204.62h3.0M36.5,192.89h3.0M36.5,181.16h3.0M36.5,157.69h3.0M36.5,145.95h3.0M36.5,134.22h3.0M36.5,110.74h3.0M36.5,99.01h3.0M36.5,87.28h3.0M36.5,63.81h3.0M36.5,52.07h3.0M36.5,40.33h3.0M36.5,16.87h3.0M36.5,5.13h3.0" stroke="#acacac"/>
<path d="M362.50,263.30h-4.7M362.50,216.36h-4.7M362.50,169.42h-4.7M362.50,122.48h-4.7M362.50,75.54h-4.7M362.50,28.60h-4.7" stroke="#8c8c8c"/>
<path d="M362.50,251.57h-3.0M362.50,239.83h-3.0M362.50,228.09h-3.0M362.50,204.62h-3.0M362.50,192.89h-3.0M362.50,181.16h-3.0M362.50,157.69h-3.0M362.50,145.95h-3.0M362.50,134.22h-3.0M362.50,110.74h-3.0M362.50,99.01h-3.0M362.50,87.28h-3.0M362.50,63.81h-3.0M362.50,52.07h-3.0M362.50,40.33h-3.0M362.50,16.87h-3.0M362.50,5.13h-3.0" stroke="#b0b0b0"/>
<path d="M36.5,1.0V263.8" stroke="#8c8c8c"/>
<path d="M362.50,1.0V263.8" stroke="#969696"/>
<path d="M36.0,1.5H363.00" stroke="#969696"/>
<path d="M36.0,263.3H363.00" stroke="#484848"/>
</g>
<g font-family="Liberation Sans, sans-serif" font-weight="bold" font-size="10.8px" fill="#000">
<text x="32.9" y="267.40" text-anchor="end">0.2</text>
<text x="32.9" y="220.46" text-anchor="end">0.4</text>
<text x="32.9" y="173.52" text-anchor="end">0.6</text>
<text x="32.9" y="126.58" text-anchor="end">0.8</text>
<text x="32.9" y="79.64" text-anchor="end">1.0</text>
<text x="32.9" y="32.70" text-anchor="end">1.2</text>
<text x="61.58" y="277" text-anchor="middle">2</text>
<text x="111.73" y="277" text-anchor="middle">3</text>
<text x="161.88" y="277" text-anchor="middle">4</text>
<text x="212.04" y="277" text-anchor="middle">5</text>
<text x="262.19" y="277" text-anchor="middle">6</text>
<text x="312.35" y="277" text-anchor="middle">7</text>
<text x="363.20" y="277" text-anchor="middle">8</text>
</g>
<text x="199.7" y="295.7" text-anchor="middle" font-family="Liberation Sans, sans-serif" font-weight="bold" font-size="11px">r</text>
<text transform="translate(9.3,132.4) rotate(-90)" text-anchor="middle" font-family="Liberation Sans, sans-serif" font-weight="bold" font-size="10.5px"><tspan font-style="italic">ρ</tspan>(r)+<tspan font-style="italic">P</tspan><tspan font-style="italic" font-size="7.35px" dy="2">r</tspan><tspan dy="-2">(r)+2</tspan><tspan font-style="italic">P</tspan><tspan font-style="italic" font-size="7.35px" dy="2">t</tspan><tspan dy="-2">(r)</tspan></text>
<rect x="270.5" y="9.8" width="84.20" height="114.05" rx="4.4" ry="4.4" fill="#fde9e9" stroke="#000" stroke-width="1.75"/>
<path d="M276.9,23.85H307.6" stroke="#00ffff" stroke-width="2.1" fill="none" stroke-dasharray="1.8 3.6 5 3.6"/>
<text x="315.2" y="26.30" font-family="Liberation Sans, sans-serif" font-weight="bold" font-size="12.2px"><tspan font-style="italic">α</tspan><tspan dx="0.7">=2.2</tspan></text>
<path d="M276.9,46.0H307.6" stroke="#ff0000" stroke-width="2.1" fill="none" stroke-dasharray="3.2 2.67"/>
<text x="315.2" y="48.45" font-family="Liberation Sans, sans-serif" font-weight="bold" font-size="12.2px"><tspan font-style="italic">α</tspan><tspan dx="0.7">=2.3</tspan></text>
<path d="M276.9,68.1H307.6" stroke="#0000ff" stroke-width="2.1" fill="none" stroke-dasharray="8 6.4"/>
<text x="315.2" y="70.55" font-family="Liberation Sans, sans-serif" font-weight="bold" font-size="12.2px"><tspan font-style="italic">α</tspan><tspan dx="0.7">=2.4</tspan></text>
<path d="M276.9,90.05H307.6" stroke="#00ff00" stroke-width="2.1" fill="none" stroke-dasharray="11.2 10.9"/>
<text x="315.2" y="92.50" font-family="Liberation Sans, sans-serif" font-weight="bold" font-size="12.2px"><tspan font-style="italic">α</tspan><tspan dx="0.7">=2.5</tspan></text>
<path d="M276.9,112.2H307.6" stroke="#800080" stroke-width="2.1" fill="none"/>
<text x="315.2" y="114.65" font-family="Liberation Sans, sans-serif" font-weight="bold" font-size="12.2px"><tspan font-style="italic">α</tspan><tspan dx="0.7">=2.6</tspan></text>
</svg>
</body></html>
